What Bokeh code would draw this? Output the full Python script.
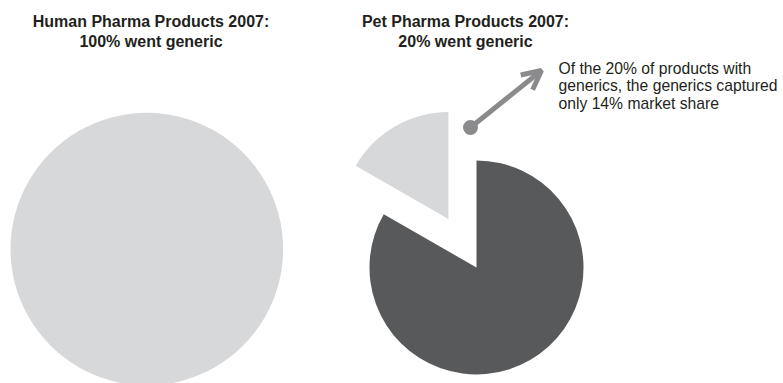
import math
from bokeh.plotting import figure
from bokeh.models import Label, Arrow, OpenHead, Range1d, ColumnDataSource
from bokeh.embed import file_html
from bokeh.resources import INLINE

# ---- data ----
human_slices = ["Went generic"]
human_values = [100.0]
pet_slices = ["Went generic", "No generic"]
pet_values = [16.7, 83.3]          # share drawn in the picture
slice_colors = ["#d7d8da", "#58595b"]
titles_left = ["Human Pharma Products 2007:", "100% went generic"]
titles_right = ["Pet Pharma Products 2007:", "20% went generic"]
note_lines = ["Of the 20% of products with",
              "generics, the generics captured",
              "only 14% market share"]

W, H = 783, 383
p = figure(width=W, height=H, output_backend="svg", toolbar_location=None,
           x_range=Range1d(0, W), y_range=Range1d(0, H), min_border=0)
p.axis.visible = False
p.grid.visible = False
p.outline_line_color = None
p.background_fill_color = "white"

FONT = "Liberation Sans"

# ---- human pie ----
hx, hy, hr = 146.3, 134.4, 136.3
tot = sum(human_values)
start = math.pi / 2
hs, he = [], []
for v in human_values:
    span = v / tot * 2 * math.pi
    hs.append(start)
    he.append(start + span - 1e-4)
    start += span
p.wedge(x=hx, y=hy, radius=hr, start_angle=hs, end_angle=he,
        fill_color=slice_colors[0], line_color=None)

# ---- pet pie ----
px, py, pr = 476.0, 116.0, 107.0
explode = 56.0
tot = sum(pet_values)
start = math.pi / 2
xs, ys, ss, es, cs = [], [], [], [], []
for i, v in enumerate(pet_values):
    span = v / tot * 2 * math.pi
    mid = start + span / 2
    off = explode if i == 0 else 0.0
    xs.append(px + off * math.cos(mid))
    ys.append(py + off * math.sin(mid))
    ss.append(start)
    es.append(start + span)
    cs.append(slice_colors[i])
    start += span
src = ColumnDataSource(dict(x=xs, y=ys, s=ss, e=es, c=cs, name=pet_slices))
p.wedge(x="x", y="y", radius=pr, start_angle="s", end_angle="e",
        fill_color="c", line_color=None, source=src)

# ---- arrow ----
acol = "#8b8b8d"
p.add_layout(Arrow(end=OpenHead(size=19, line_width=5, line_color=acol),
                   x_start=470, y_start=256, x_end=541, y_end=313,
                   line_width=5, line_color=acol))
p.scatter(x=[470], y=[256], size=15, fill_color=acol, line_color=None)

# ---- texts ----
for i, t in enumerate(titles_left):
    p.add_layout(Label(x=150.5, y=362.2 - 19.7 * i, text=t, text_align="center",
                       text_baseline="middle", text_font=FONT,
                       text_font_style="bold", text_font_size="16px",
                       text_color="#231f20"))
for i, t in enumerate(titles_right):
    p.add_layout(Label(x=465, y=362.2 - 19.7 * i, text=t, text_align="center",
                       text_baseline="middle", text_font=FONT,
                       text_font_style="bold", text_font_size="16px",
                       text_color="#231f20"))
for i, t in enumerate(note_lines):
    p.add_layout(Label(x=558, y=314.8 - 17.2 * i, text=t, text_align="left",
                       text_baseline="middle", text_font=FONT,
                       text_font_size="15.7px", text_color="#231f20"))

open("out.html", "w").write(file_html(p, INLINE))
